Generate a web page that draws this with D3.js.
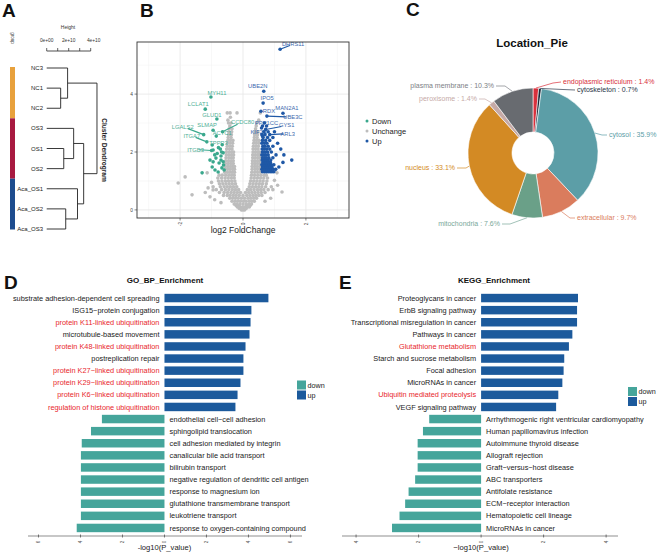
<!DOCTYPE html>
<html><head><meta charset="utf-8">
<script src="https://cdn.jsdelivr.net/npm/d3@7"></script>
<style>body{margin:0;background:#fff}svg{font-family:"Liberation Sans",Arial,Helvetica,sans-serif}</style>
</head><body>
<svg id="fig" width="669" height="553"></svg>
<script>
// ---------------- DATA ----------------
// A: dendrogram
const leafNames = ["NC3","NC1","NC2","OS3","OS1","OS2","Aca_OS1","Aca_OS2","Aca_OS3"];
const groupNames = ["NC","OS","Aca_OS"];
const groupOfLeaf = ["NC","NC","NC","OS","OS","OS","Aca_OS","Aca_OS","Aca_OS"];
const groupColors = ["#e8a13c","#a81a40","#1d4c8e"];
// merge heights in units of 1e10
const dendroTree = {h:4.57, children:[
  {h:1.9, children:[{name:"NC3"},{h:1.27, children:[{name:"NC1"},{name:"NC2"}]}]},
  {h:3.36, children:[
    {h:2.45, children:[{name:"OS3"},{h:1.55, children:[{name:"OS1"},{name:"OS2"}]}]},
    {h:2.8, children:[{name:"Aca_OS1"},{h:1.73, children:[{name:"Aca_OS2"},{name:"Aca_OS3"}]}]}
  ]}
]};
const heightTicks = [0,1,2,3,4];
const heightTickLabels = ["0e+00","","2e+10","","4e+10"];

// B: volcano (log2FC, -log10 p)
const greyRows = [
 [0.0,-0.05,0.0,0.05],
 [0.05,-0.12,-0.04,0.03,0.1],
 [0.1,-0.18,-0.1,-0.02,0.06,0.14,0.2],
 [0.15,-0.22,-0.13,0.12,0.23],
 [0.2,-0.28,-0.2,-0.1,0.0,0.1,0.19,0.27],
 [0.3,-0.35,-0.26,-0.17,-0.08,0.02,0.1,0.2,0.28,0.36],
 [0.4,-0.42,-0.33,-0.24,-0.15,-0.05,0.05,0.16,0.25,0.34,0.43],
 [0.5,-0.62,-0.5,-0.41,-0.31,-0.22,-0.12,0.0,0.12,0.22,0.32,0.41,0.5,0.6],
 [0.6,-0.75,-0.6,-0.49,-0.38,-0.28,-0.18,-0.08,0.08,0.18,0.28,0.38,0.48,0.58,0.7],
 [0.7,-0.85,-0.68,-0.56,-0.45,-0.34,-0.24,-0.14,0.14,0.24,0.35,0.46,0.56,0.66,0.8],
 [0.8,-0.95,-0.72,-0.6,-0.5,-0.4,-0.3,-0.2,0.2,0.3,0.4,0.5,0.6,0.72,0.9],
 [0.9,-0.75,-0.64,-0.54,-0.44,-0.34,-0.24,0.22,0.32,0.42,0.52,0.62,0.74],
 [1.0,-0.78,-0.67,-0.56,-0.46,-0.36,-0.26,0.24,0.34,0.44,0.54,0.64,0.76],
 [1.1,-0.8,-0.68,-0.57,-0.47,-0.37,-0.28,0.26,0.36,0.46,0.56,0.66,0.78],
 [1.2,-0.76,-0.66,-0.55,-0.45,-0.36,-0.28,0.27,0.37,0.47,0.57,0.67,0.74],
 [1.3,-0.58,-0.5,-0.42,-0.34,-0.27,0.28,0.37,0.46,0.55],
 [1.4,-0.57,-0.49,-0.41,-0.33,-0.27,0.29,0.38,0.46,0.54],
 [1.5,-0.56,-0.48,-0.4,-0.33,-0.27,0.29,0.37,0.45,0.53],
 [1.6,-0.56,-0.47,-0.39,-0.31,0.3,0.38,0.46,0.54],
 [1.7,-0.55,-0.46,-0.38,-0.31,0.3,0.38,0.46,0.53],
 [1.8,-0.54,-0.45,-0.37,-0.31,0.31,0.39,0.47,0.54],
 [1.9,-0.53,-0.45,-0.37,-0.3,0.31,0.39,0.47,0.53],
 [2.0,-0.53,-0.44,-0.36,-0.3,0.32,0.4,0.47,0.53],
 [2.1,-0.52,-0.43,-0.35,0.32,0.4,0.48],
 [2.2,-0.5,-0.42,-0.34,0.33,0.41,0.49],
 [2.3,-0.49,-0.41,-0.33,0.34,0.42,0.5],
 [2.4,-0.48,-0.4,-0.32,0.35,0.43,0.51],
 [2.5,-0.47,-0.38,0.36,0.45],
 [2.6,-0.46,-0.37,0.37,0.46],
 [2.7,-0.45,-0.36,0.38,0.47],
 [2.8,-0.44,-0.35,0.4],
 [2.9,-0.42,0.42],
 [3.0,-0.46,-0.38,0.44],
 [3.1,-0.48,0.5],
 [3.2,-0.4],
 [3.35,-0.5,-0.41,-0.19,0.55]
];
const greyOutliers = [[-2.06,0.93],[-1.84,1.14],[-1.62,0.52],[-1.14,1.28],[-1.11,0.76],[-0.95,0.69],[-1.0,0.95],[-1.2,0.6],[-1.05,0.45],[-0.9,0.35],[-0.7,0.25],[1.24,0.62],[1.08,1.28],[1.0,1.02],[0.95,0.7],[1.1,0.85],[0.88,0.4],[0.7,0.3]];
const downPts = [[-0.95,1.66],[-0.86,1.79],[-0.7,1.86],[-0.63,1.97],[-0.76,1.62],[-0.89,1.38],[-0.98,1.48],[-1.05,1.72],[-0.79,1.31],[-0.67,1.45],[-0.63,1.66],[-1.3,1.28],[-0.98,2.24],[-0.95,2.07],[-0.72,2.1],[-0.66,2.25],[-0.82,1.95],[-0.6,1.38],[-0.7,1.72],[-0.62,1.55],[-0.9,1.9],[-0.68,2.0]];
const upRows = [
 [1.32,0.62,0.68,0.74,0.8,0.86,0.92,0.98],
 [1.4,0.6,0.66,0.72,0.78,0.84,0.9,0.96,1.04],
 [1.48,0.62,0.68,0.74,0.8,0.86,0.92,1.14],
 [1.56,0.6,0.66,0.72,0.78,0.84,0.9,0.98],
 [1.64,0.63,0.69,0.75,0.81,0.87,1.27],
 [1.72,0.61,0.67,0.73,0.79,0.88,1.55],
 [1.8,0.62,0.68,0.74,0.82,0.95],
 [1.9,0.6,0.66,0.72,0.8,1.05,1.3],
 [2.0,0.62,0.7,0.78,0.9],
 [2.1,0.61,0.67,0.75,0.85,1.2],
 [2.2,0.63,0.7,0.8,0.95],
 [2.3,0.6,0.68,0.76,1.1],
 [2.4,0.62,0.72,0.85],
 [2.5,0.64,0.78,0.95],
 [2.6,0.6,0.7],
 [2.7,0.66,0.8,1.0],
 [2.9,0.62,0.75],
 [3.0,0.68]
];
const geneNames = ["DHRS11","UBE2N","IPO5","RDX","MAN2A1","UBE3C","PPP1CC","GYS1","ARL3","KIF2A",
                   "MYH11","LCLAT1","GLUD1","CCDC80","LGALS2","SLMAP","ITGA7","ACTC1","TPPP3","ITGB3"];
const geneFC = [1.18,0.66,0.64,0.57,1.27,0.76,0.59,0.72,0.85,0.62, -1.02,-1.2,-0.83,-0.65,-1.25,-0.95,-1.15,-0.85,-0.78,-1.0];
const geneP  = [5.55,4.1,3.69,3.41,3.34,3.24,2.83,2.78,2.6,2.55, 3.9,3.48,3.14,2.7,2.6,2.75,2.35,2.55,2.15,2.05];
const geneDir = ["Up","Up","Up","Up","Up","Up","Up","Up","Up","Up","Down","Down","Down","Down","Down","Down","Down","Down","Down","Down"];
const volcanoClasses = ["Down","Unchange","Up"];
const volcanoColors = ["#3aa88d","#bdbdbd","#1f58a6"];
const volXTicks = [-2,0,2], volYTicks = [0,2,4];

// C: pie
const locNames = ["endoplasmic reticulum","cytoskeleton","cytosol","extracellular","mitochondria","nucleus","peroxisome","plasma membrane"];
const locPct = [1.4,0.7,35.9,9.7,7.6,33.1,1.4,10.3];
const locColors = ["#d8303c","#1b2838","#5c9ea7","#da7c5d","#6aa088","#d38a24","#c6aaa7","#686b70"];
const locTextColors = ["#d8303c","#2a3548","#5c9ea7","#da7c5d","#7aa89a","#d38a24","#c6aaa7","#7d8085"];

// D: GO BP
const goUpTerms = ["substrate adhesion-dependent cell spreading","ISG15\u2212protein conjugation","protein K11-linked ubiquitination","microtubule-based movement","protein K48-linked ubiquitination","postreplication repair","protein K27\u2212linked ubiquitination","protein K29\u2212linked ubiquitination","protein K6\u2212linked ubiquitination","regulation of histone ubiquitination"];
const goUpValues = [4.95,4.14,4.1,4.05,3.86,3.76,3.76,3.62,3.48,3.38];
const goUpHighlight = [0,0,1,0,1,0,1,1,1,1];
const goDownTerms = ["endothelial cell\u2212cell adhesion","sphingolipid translocation","cell adhesion mediated by integrin","canalicular bile acid transport","bilirubin transport","negative regulation of dendritic cell antigen","response to magnesium ion","glutathione transmembrane transport","leukotriene transport","response to oxygen-containing compound"];
const goDownValues = [2.98,3.5,3.94,3.98,3.98,3.98,3.98,3.98,3.98,4.18];
const goTicks = [-6,-4,-2,0,2,4,6];

// E: KEGG
const keggUpTerms = ["Proteoglycans in cancer","ErbB signaling pathway","Transcriptional misregulation in cancer","Pathways in cancer","Glutathione metabolism","Starch and sucrose metabolism","Focal adhesion","MicroRNAs in cancer","Ubiquitin mediated proteolysis","VEGF signaling pathway"];
const keggUpValues = [3.1,3.07,3.07,2.92,2.81,2.66,2.64,2.6,2.47,2.4];
const keggUpHighlight = [0,0,0,0,1,0,0,0,1,0];
const keggDownTerms = ["Arrhythmogenic right ventricular cardiomyopathy","Human papillomavirus infection","Autoimmune thyroid disease","Allograft rejection","Graft\u2212versus\u2212host disease","ABC transporters","Antifolate resistance","ECM\u2212receptor interaction","Hematopoietic cell lineage","MicroRNAs in cancer"];
const keggDownValues = [1.66,1.86,2.03,2.03,2.03,2.11,2.32,2.43,2.61,2.85];
const keggTicks = [-4,-2,0,2,4];
const enrichClasses = ["down","up"];
const enrichColors = ["#45a59b","#1c5a9c"];

// ---------------- DRAW ----------------
const svg = d3.select("#fig");
svg.append("rect").attr("width",669).attr("height",553).attr("fill","#fff");

// panel letters
[["A",2,17],["B",140,17],["C",406,16],["D",4,289],["E",339,289]].forEach(([t,x,y])=>{
  svg.append("text").attr("x",x).attr("y",y).attr("font-size",19).attr("font-weight","bold").attr("fill","#111").text(t);
});

// ===== A: dendrogram =====
(function(){
  const g = svg.append("g");
  const yLeaf = d3.scalePoint().domain(leafNames).range([68,229]);
  const xH = d3.scaleLinear().domain([0,4]).range([46.7,90.7]);
  const root = d3.hierarchy(dendroTree);
  root.eachAfter(n=>{
    if(!n.children){ n.py = yLeaf(n.data.name); n.px = xH(0); }
    else { n.py = d3.mean(n.children, c=>c.py); n.px = xH(n.data.h); }
  });
  const lineCol = "#222";
  root.each(n=>{
    if(n.children){
      g.append("line").attr("x1",n.px).attr("x2",n.px)
        .attr("y1",d3.min(n.children,c=>c.py)).attr("y2",d3.max(n.children,c=>c.py))
        .attr("stroke",lineCol).attr("stroke-width",0.9);
      n.children.forEach(c=>{
        g.append("line").attr("x1",c.px).attr("x2",n.px).attr("y1",c.py).attr("y2",c.py)
          .attr("stroke",lineCol).attr("stroke-width",0.9);
      });
    }
  });
  root.leaves().forEach(l=>{
    g.append("text").attr("x",43).attr("y",l.py).attr("dy","0.35em").attr("text-anchor","end")
      .attr("font-size",6).attr("fill","#222").text(l.data.name);
  });
  // height axis
  const ax = g.append("g").attr("transform","translate(0,51)");
  ax.append("line").attr("x1",xH(0)).attr("x2",xH(4)).attr("y1",0).attr("y2",0).attr("stroke","#222").attr("stroke-width",0.8);
  heightTicks.forEach((t,i)=>{
    ax.append("line").attr("x1",xH(t)).attr("x2",xH(t)).attr("y1",0).attr("y2",-3).attr("stroke","#222").attr("stroke-width",0.7);
    if(heightTickLabels[i]) ax.append("text").attr("x",xH(t)+(i===4?3:0)).attr("y",-9).attr("text-anchor","middle").attr("font-size",4.8).attr("fill","#333").text(heightTickLabels[i]);
  });
  g.append("text").attr("x",68).attr("y",29).attr("text-anchor","middle").attr("font-size",5).attr("fill","#333").text("Height");
  g.append("text").attr("transform","translate(104,150) rotate(90)").attr("text-anchor","middle").attr("dy","0.35em")
    .attr("font-size",6.6).attr("font-weight","bold").attr("fill","#222").text("Cluster Dendrogram");
  // group bar
  const step = yLeaf.step();
  groupNames.forEach((gn,i)=>{
    const ys = leafNames.filter((d,j)=>groupOfLeaf[j]===gn).map(yLeaf);
    const y0 = Math.max(67, d3.min(ys)-step/2), y1 = Math.min(229.5, d3.max(ys)+step/2);
    g.append("rect").attr("x",10).attr("y",y0).attr("width",5).attr("height",y1-y0).attr("fill",groupColors[i]);
  });
  g.append("text").attr("transform","translate(12.5,38) rotate(90)").attr("text-anchor","middle").attr("dy","0.35em")
    .attr("font-size",4.5).attr("fill","#444").text("group");
})();

// ===== B: volcano =====
(function(){
  const g = svg.append("g");
  const x = d3.scaleLinear().domain([-3.37,3.37]).range([137,349]);
  const y = d3.scaleLinear().domain([-0.28,5.8]).range([218,42]);
  // grid
  d3.range(-3,4).forEach(v=>{
    g.append("line").attr("x1",x(v)).attr("x2",x(v)).attr("y1",42).attr("y2",218)
      .attr("stroke", v%2===0?"#e6e6e6":"#f1f1f1").attr("stroke-width", v%2===0?0.8:0.5);
  });
  d3.range(0,6).forEach(v=>{
    g.append("line").attr("x1",137).attr("x2",349).attr("y1",y(v)).attr("y2",y(v))
      .attr("stroke", v%2===0?"#e6e6e6":"#f1f1f1").attr("stroke-width", v%2===0?0.8:0.5);
  });
  const greyPts = greyRows.flatMap(r=>r.slice(1).map(v=>[v,r[0]])).concat(greyOutliers);
  const upPts = upRows.flatMap(r=>r.slice(1).map(v=>[v,r[0]]));
  const col = d3.scaleOrdinal().domain(volcanoClasses).range(volcanoColors);
  const R = 1.8;
  g.selectAll(".gp").data(greyPts).join("circle").attr("cx",d=>x(d[0])).attr("cy",d=>y(d[1])).attr("r",R).attr("fill",col("Unchange"));
  g.selectAll(".dp").data(downPts).join("circle").attr("cx",d=>x(d[0])).attr("cy",d=>y(d[1])).attr("r",R).attr("fill",col("Down"));
  g.selectAll(".up").data(upPts).join("circle").attr("cx",d=>x(d[0])).attr("cy",d=>y(d[1])).attr("r",R).attr("fill",col("Up"));
  // labelled genes: label nudges (px) are layout only
  const nudges = [[13,-5],[-6,-5],[4,-5],[8,0],[4,-5],[26,1],[5,-5],[21,-4],[18,-1],[-4,-4],
                  [6,-4],[-7,-5],[-5,-4],[20,-10],[-21,-8],[-6,-5],[-15,-6],[6,-3],[0,-5],[-16,-1]];
  geneNames.forEach((nm,i)=>{
    const px = x(geneFC[i]), py = y(geneP[i]);
    const c = col(geneDir[i]);
    const [dx,dy] = nudges[i];
    if(Math.hypot(dx,dy)>12){
      g.append("line").attr("x1",px).attr("y1",py).attr("x2",px+dx*0.75).attr("y2",py+dy*0.75)
        .attr("stroke",c).attr("stroke-width",1.1);
    }
    g.append("circle").attr("cx",px).attr("cy",py).attr("r",R).attr("fill",c);
    g.append("text").attr("x",px+dx).attr("y",py+dy).attr("dy","0.35em").attr("text-anchor","middle")
      .attr("font-size",5.8).attr("fill",c).attr("opacity",0.9).text(nm);
  });
  // border
  g.append("rect").attr("x",137).attr("y",42).attr("width",212).attr("height",176).attr("fill","none").attr("stroke","#333").attr("stroke-width",0.9);
  // axes
  volXTicks.forEach(v=>{
    g.append("line").attr("x1",x(v)).attr("x2",x(v)).attr("y1",218).attr("y2",220.5).attr("stroke","#333").attr("stroke-width",0.6);
    g.append("text").attr("transform",`translate(${x(v)},224) rotate(-90)`).attr("text-anchor","middle").attr("dy","0.35em")
      .attr("font-size",4.8).attr("fill","#444").text(v);
  });
  volYTicks.forEach(v=>{
    g.append("line").attr("x1",134.5).attr("x2",137).attr("y1",y(v)).attr("y2",y(v)).attr("stroke","#333").attr("stroke-width",0.6);
    g.append("text").attr("x",133).attr("y",y(v)).attr("dy","0.35em").attr("text-anchor","end")
      .attr("font-size",4.8).attr("fill","#444").text(v);
  });
  g.append("text").attr("x",243).attr("y",233).attr("text-anchor","middle").attr("font-size",8.5).attr("fill","#222").text("log2 FoldChange");
  // legend
  volcanoClasses.forEach((k,i)=>{
    g.append("circle").attr("cx",367).attr("cy",121+i*10).attr("r",1.5).attr("fill",volcanoColors[i]);
    g.append("text").attr("x",372).attr("y",121+i*10).attr("dy","0.35em").attr("font-size",7.5).attr("fill","#222").text(k);
  });
})();

// ===== C: pie =====
(function(){
  const cx = 533, cy = 153, rO = 65, rI = 21;
  const g = svg.append("g").attr("transform",`translate(${cx},${cy})`);
  const arcs = d3.pie().sort(null).value(d=>d)(locPct);
  const arc = d3.arc().innerRadius(rI).outerRadius(rO);
  g.selectAll("path").data(arcs).join("path").attr("d",arc).attr("fill",(d,i)=>locColors[i]).attr("stroke","#fff").attr("stroke-width",0.6);
  svg.append("text").attr("x",532).attr("y",47).attr("text-anchor","middle").attr("font-size",11.5).attr("font-weight","bold").attr("fill","#111").text("Location_Pie");
  // label layout (px relative to centre): elbow, label anchor point, text-anchor
  const labelLayout = [
    [[20,-70],[28,-71],"start"],
    [[30,-63.5],[42,-63],"start"],
    [[69,-18],[74,-18],"start"],
    [[37,65],[42,65],"start"],
    [[-23,71],[-31,71],"end"],
    [[-67,15],[-76,15],"end"],
    [[-48,-54],[-54,-54],"end"],
    [[-28,-67],[-37,-67],"end"]
  ];
  arcs.forEach((a,i)=>{
    const m = (a.startAngle+a.endAngle)/2;
    const p0 = [rO*Math.sin(m), -rO*Math.cos(m)];
    const [e,l,anc] = labelLayout[i];
    g.append("polyline").attr("points",[p0,e,l].map(p=>p.join(",")).join(" "))
      .attr("fill","none").attr("stroke",locTextColors[i]).attr("stroke-width",0.7);
    g.append("text").attr("x",l[0]+(anc==="start"?2:-2)).attr("y",l[1]).attr("dy","0.35em").attr("text-anchor",anc)
      .attr("font-size",7).attr("fill",locTextColors[i]).text(`${locNames[i]} : ${locPct[i]}%`);
  });
})();

// ===== D & E: enrichment bars =====
function drawEnrich(cfg){
  const g = svg.append("g");
  const n = cfg.upTerms.length + cfg.downTerms.length;
  const yb = d3.scaleBand().domain(d3.range(n)).range([292,534]).paddingInner(0.3).paddingOuter(0.15);
  const x = d3.scaleLinear().domain(cfg.domain).range(cfg.range);
  const col = d3.scaleOrdinal().domain(enrichClasses).range(enrichColors);
  const rows = cfg.upTerms.map((t,i)=>({t, v:cfg.upValues[i], dir:"up", hl:cfg.upHl[i]}))
    .concat(cfg.downTerms.map((t,i)=>({t, v:-cfg.downValues[i], dir:"down", hl:0})));
  rows.forEach((r,i)=>{
    const x0 = x(Math.min(0,r.v)), x1 = x(Math.max(0,r.v));
    g.append("rect").attr("x",x0).attr("y",yb(i)).attr("width",x1-x0).attr("height",yb.bandwidth()).attr("fill",col(r.dir));
    const up = r.dir==="up";
    g.append("text").attr("x", up? x(0)-5 : x(0)+5).attr("y",yb(i)+yb.bandwidth()/2).attr("dy","0.35em")
      .attr("text-anchor", up?"end":"start").attr("font-size",7.35)
      .attr("fill", r.hl? "#e8262c":"#1a1a1a").text(r.t);
  });
  const axisY = 536;
  g.append("line").attr("x1",cfg.range[0]).attr("x2",cfg.range[1]).attr("y1",axisY).attr("y2",axisY).attr("stroke","#444").attr("stroke-width",0.6);
  cfg.ticks.forEach(t=>{
    g.append("line").attr("x1",x(t)).attr("x2",x(t)).attr("y1",axisY-1.5).attr("y2",axisY+1.5).attr("stroke","#444").attr("stroke-width",0.7);
    g.append("text").attr("transform",`translate(${x(t)},${axisY+6}) rotate(-90)`).attr("text-anchor","middle").attr("dy","0.35em")
      .attr("font-size",4.6).attr("fill","#555").text(Math.abs(t));
  });
  g.append("text").attr("x",x(0)).attr("y",550).attr("text-anchor","middle").attr("font-size",7.6).attr("fill","#222").text(cfg.xlab);
  g.append("text").attr("x",cfg.titleX).attr("y",283).attr("text-anchor","middle").attr("font-size",8).attr("font-weight","bold").attr("fill","#111").text(cfg.title);
  enrichClasses.forEach((k,i)=>{
    g.append("rect").attr("x",cfg.legX).attr("y",cfg.legY+i*10).attr("width",9).attr("height",9).attr("fill",enrichColors[i]);
    g.append("text").attr("x",cfg.legX+10.5).attr("y",cfg.legY+i*10+4.5).attr("dy","0.35em").attr("font-size",7.2).attr("fill","#222").text(k);
  });
}
drawEnrich({upTerms:goUpTerms, upValues:goUpValues, upHl:goUpHighlight, downTerms:goDownTerms, downValues:goDownValues,
  domain:[-6.5,6.55], range:[28,302], ticks:goTicks, xlab:"-log10(P_value)", title:"GO_BP_Enrichment", titleX:165, legX:297, legY:380.5});
drawEnrich({upTerms:keggUpTerms, upValues:keggUpValues, upHl:keggUpHighlight, downTerms:keggDownTerms, downValues:keggDownValues,
  domain:[-4.45,4.38], range:[342,618], ticks:keggTicks, xlab:"\u2212log10(P_value)", title:"KEGG_Enrichment", titleX:494, legX:628, legY:387});
</script>
</body></html>
